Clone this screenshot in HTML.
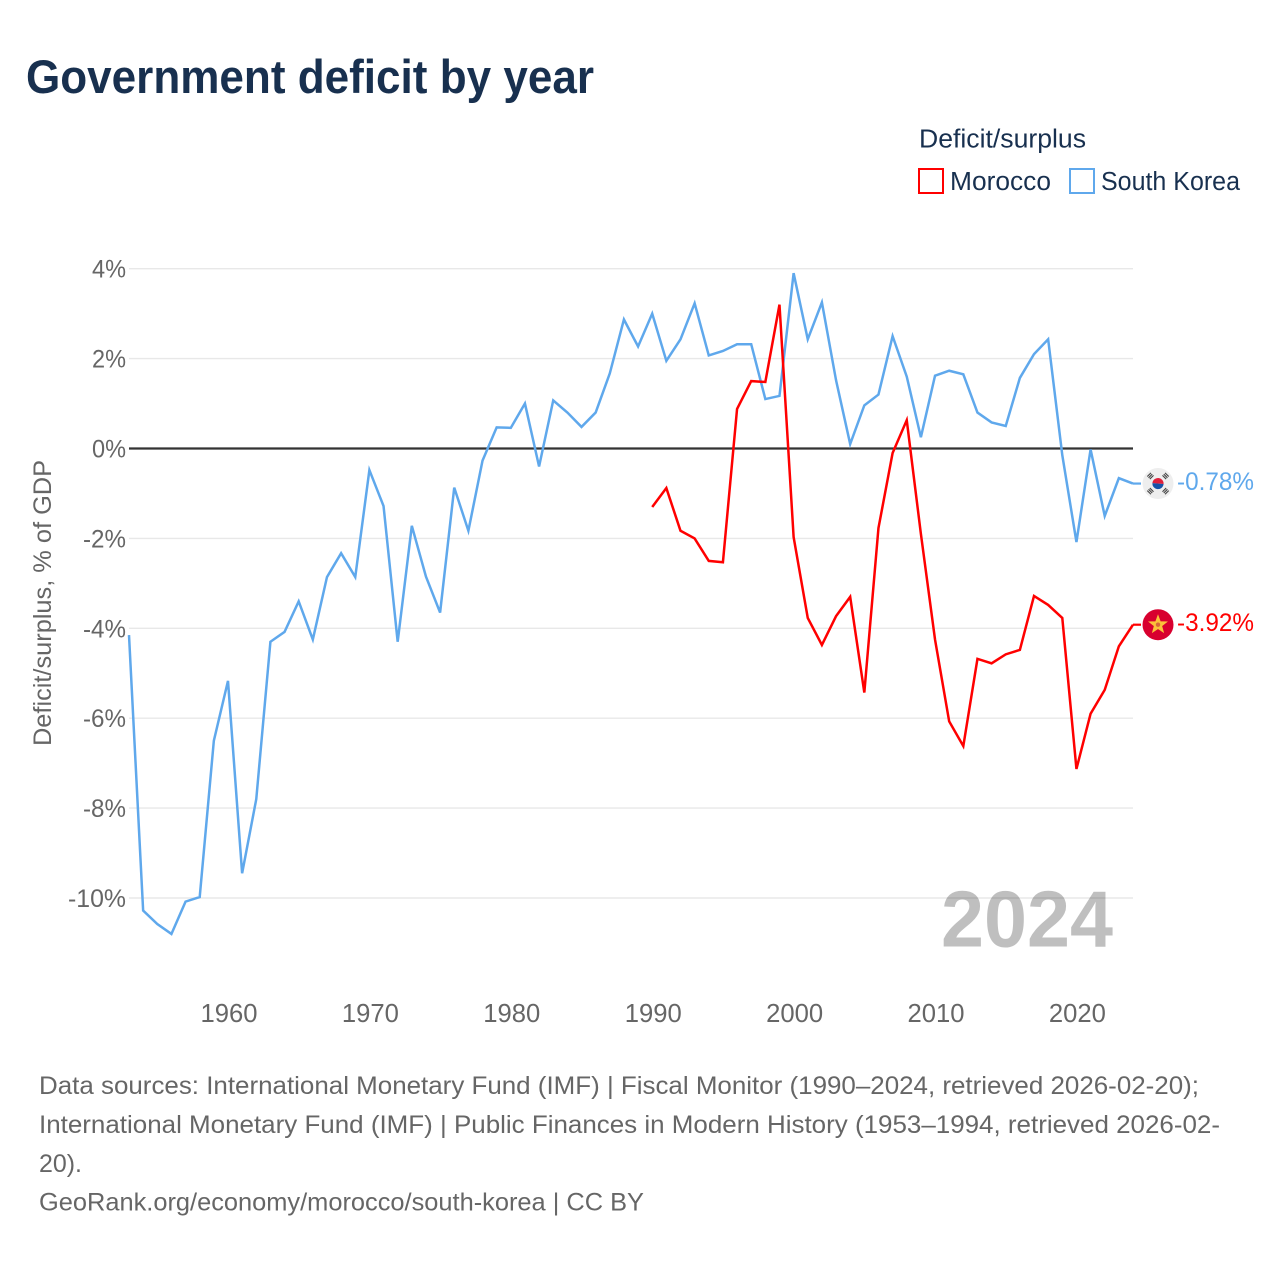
<!DOCTYPE html>
<html lang="en">
<head>
<meta charset="utf-8">
<title>Government deficit by year</title>
<style>
html,body{margin:0;padding:0;background:#fff;width:1280px;height:1280px;overflow:hidden}
svg{display:block}
text{font-family:"Liberation Sans",sans-serif}
</style>
</head>
<body>
<svg id="chart" xmlns="http://www.w3.org/2000/svg" width="1280" height="1280" viewBox="0 0 1280 1280">
  <rect width="1280" height="1280" fill="#fff"/>
  <text x="26" y="93" font-size="47" font-weight="700" fill="#18304f" textLength="568" lengthAdjust="spacingAndGlyphs">Government deficit by year</text>

  <text x="919" y="147.5" font-size="25.5" fill="#18304f" textLength="167" lengthAdjust="spacingAndGlyphs">Deficit/surplus</text>
  <g>
    <rect x="919" y="169" width="24" height="24" fill="none" stroke="#ff0000" stroke-width="2"/>
    <text x="950" y="190" font-size="25.5" fill="#18304f" textLength="101" lengthAdjust="spacingAndGlyphs">Morocco</text>
  </g>
  <g>
    <rect x="1070" y="169" width="24" height="24" fill="none" stroke="#5fa8ec" stroke-width="2"/>
    <text x="1101" y="190" font-size="25.5" fill="#18304f" textLength="139" lengthAdjust="spacingAndGlyphs">South Korea</text>
  </g>

  <text transform="translate(51 603) rotate(-90)" text-anchor="middle" font-size="25" fill="#666" textLength="286" lengthAdjust="spacingAndGlyphs">Deficit/surplus, % of GDP</text>

  <g id="grid"></g>
  <g id="yticks"></g>
  <g id="xticks"></g>

  <text x="941" y="946.5" font-size="80" font-weight="700" fill="#000" fill-opacity="0.25" textLength="172" lengthAdjust="spacingAndGlyphs">2024</text>

  <g id="series"></g>
  <g id="ends"></g>

  <g font-size="25" fill="#666">
    <text x="39" y="1094" textLength="1160" lengthAdjust="spacingAndGlyphs">Data sources: International Monetary Fund (IMF) | Fiscal Monitor (1990–2024, retrieved 2026-02-20);</text>
    <text x="39" y="1133" textLength="1181" lengthAdjust="spacingAndGlyphs">International Monetary Fund (IMF) | Public Finances in Modern History (1953–1994, retrieved 2026-02-</text>
    <text x="39" y="1172" textLength="43" lengthAdjust="spacingAndGlyphs">20).</text>
    <text x="39" y="1210.5" textLength="605" lengthAdjust="spacingAndGlyphs">GeoRank.org/economy/morocco/south-korea | CC BY</text>
  </g>
</svg>
<script>
const yTickValues = [4, 2, 0, -2, -4, -6, -8, -10];
const xTickYears = [1960, 1970, 1980, 1990, 2000, 2010, 2020];
const koreaStartYear = 1953;
const koreaValues = [-4.15,-10.28,-10.58,-10.8,-10.08,-9.98,-6.5,-5.17,-9.45,-7.8,-4.3,-4.08,-3.4,-4.25,-2.86,-2.33,-2.86,-0.48,-1.28,-4.3,-1.72,-2.85,-3.65,-0.87,-1.83,-0.27,0.47,0.46,1.0,-0.4,1.07,0.8,0.48,0.8,1.67,2.87,2.27,3.0,1.95,2.43,3.23,2.07,2.17,2.32,2.32,1.1,1.17,3.9,2.43,3.25,1.52,0.1,0.96,1.2,2.5,1.6,0.25,1.62,1.73,1.65,0.8,0.58,0.5,1.57,2.1,2.43,-0.15,-2.08,-0.02,-1.5,-0.66,-0.78];
const moroccoStartYear = 1990;
const moroccoValues = [-1.3,-0.88,-1.83,-2.0,-2.5,-2.53,0.88,1.5,1.48,3.2,-1.97,-3.77,-4.37,-3.73,-3.3,-5.43,-1.77,-0.1,0.63,-1.9,-4.25,-6.07,-6.62,-4.68,-4.78,-4.58,-4.48,-3.28,-3.48,-3.77,-7.13,-5.9,-5.37,-4.4,-3.92];

const NS = 'http://www.w3.org/2000/svg';
const x = year => 129 + (year - 1953) * (1133 - 129) / 71;
const y = value => 448.5 - value * 44.95;
const make = (tag, attrs, parent, txt) => {
  const el = document.createElementNS(NS, tag);
  for (const k in attrs) el.setAttribute(k, attrs[k]);
  if (txt !== undefined) el.textContent = txt;
  parent.appendChild(el);
  return el;
};
const tickWidth = v => 34 + (v < 0 ? 9 : 0) + (String(Math.abs(v)).length - 1) * 15;

const grid = document.getElementById('grid');
const yticks = document.getElementById('yticks');
yTickValues.forEach(v => {
  const line = make('line', {x1: 129, x2: 1133, y1: y(v), y2: y(v), stroke: v === 0 ? '#333' : '#e8e8e8', 'stroke-width': v === 0 ? 2.2 : 1.4}, grid);
  
  
  const w = tickWidth(v);
  const label = make('text', {x: 126 - w, y: y(v) + 9, 'font-size': 25, fill: '#666', textLength: w, lengthAdjust: 'spacingAndGlyphs'}, yticks, v + '%');
  
  
});

const xticks = document.getElementById('xticks');
xTickYears.forEach(yr => {
  const label = make('text', {x: x(yr) + 1 - 28.5, y: 1022, 'font-size': 25.5, fill: '#666', textLength: 57, lengthAdjust: 'spacingAndGlyphs'}, xticks, String(yr));
  
  
});

const series = document.getElementById('series');
const pathFor = (start, values) => values.map((v, i) => (i ? 'L' : 'M') + x(start + i).toFixed(2) + ' ' + y(v).toFixed(2)).join('');
const koreaLine = make('path', {d: pathFor(koreaStartYear, koreaValues), fill: 'none', stroke: '#5fa8ec', 'stroke-width': 2.5, 'stroke-linejoin': 'miter'}, series);


const moroccoLine = make('path', {d: pathFor(moroccoStartYear, moroccoValues), fill: 'none', stroke: '#ff0000', 'stroke-width': 2.5, 'stroke-linejoin': 'miter'}, series);



const ends = document.getElementById('ends');
const endX = x(2024);
const koreaLast = koreaValues[koreaValues.length - 1];
const moroccoLast = moroccoValues[moroccoValues.length - 1];
const fmt = v => v.toFixed(2) + '%';

const koreaConn = make('line', {x1: endX, x2: endX + 8, y1: y(koreaLast), y2: y(koreaLast), stroke: '#5fa8ec', 'stroke-width': 2.2}, ends);


const moroccoConn = make('line', {x1: endX, x2: endX + 8, y1: y(moroccoLast), y2: y(moroccoLast), stroke: '#ff0000', 'stroke-width': 2.2}, ends);



const krFlag = make('g', {transform: 'translate(1158 ' + y(koreaLast) + ')'}, ends);


make('circle', {r: 15.5, fill: '#eeeeee'}, krFlag);
make('path', {d: 'M-5.6 0A5.6 5.6 0 0 1 5.6 0Z', fill: '#e0203c', transform: 'rotate(5)'}, krFlag);
make('path', {d: 'M-5.6 0A5.6 5.6 0 0 0 5.6 0Z', fill: '#1552a8', transform: 'rotate(5)'}, krFlag);
[[-7.6, -7.6, -45], [7.6, -7.6, 45], [-7.6, 7.6, 45], [7.6, 7.6, -45]].forEach(t => {
  [-1.8, 0, 1.8].forEach(d => {
    make('rect', {x: -2.6, y: d - 0.55, width: 5.2, height: 1.1, fill: '#444', transform: 'translate(' + t[0] + ' ' + t[1] + ') rotate(' + t[2] + ')'}, krFlag);
  });
});

const maFlag = make('g', {transform: 'translate(1158 ' + y(moroccoLast) + ')'}, ends);


make('circle', {r: 15.5, fill: '#d8002f'}, maFlag);
make('polygon', {points: '0,-9 2.2,-3 8.6,-2.8 3.6,1.2 5.3,7.3 0,3.8 -5.3,7.3 -3.6,1.2 -8.6,-2.8 -2.2,-3', fill: '#fbc13a', stroke: '#fbc13a', 'stroke-width': 1}, maFlag);
make('circle', {cy: 0, r: 2.2, fill: '#d9663a'}, maFlag);

const krLabel = make('text', {x: 1177, y: y(koreaLast) + 6.5, 'font-size': 25, fill: '#5fa8ec', textLength: 77, lengthAdjust: 'spacingAndGlyphs'}, ends, fmt(koreaLast));


const maLabel = make('text', {x: 1177, y: y(moroccoLast) + 6.5, 'font-size': 25, fill: '#ff0000', textLength: 77, lengthAdjust: 'spacingAndGlyphs'}, ends, fmt(moroccoLast));


</script>
</body>
</html>
